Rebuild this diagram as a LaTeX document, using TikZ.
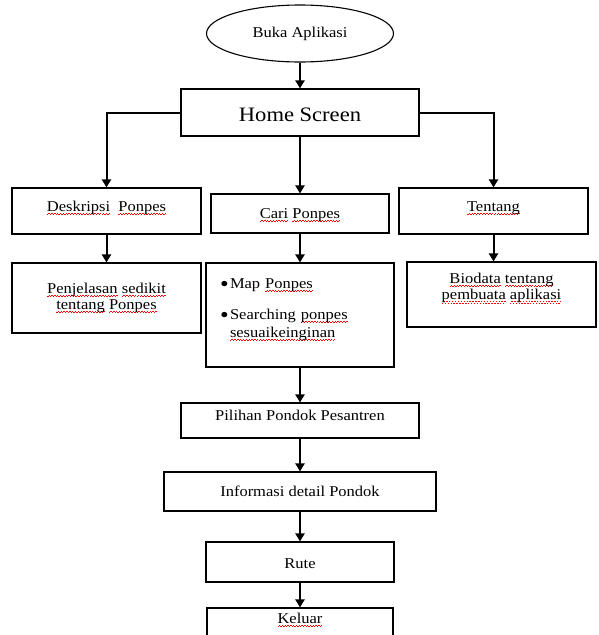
\documentclass[tikz,border=0pt]{standalone}
\usepackage{fontspec}
\setmainfont[FakeStretch=1.1]{Liberation Serif}
\usetikzlibrary{arrows.meta,shapes.geometric}
\newsavebox\sqbox
\newcommand\sq[1]{\sbox\sqbox{#1}\leavevmode\rlap{\color{red}\xleaders\hbox{\rule[-3.4pt]{1.4pt}{0.8pt}\rule[-2.3pt]{1.4pt}{0.8pt}}\hskip\wd\sqbox}\usebox\sqbox}
\newcommand\bul{\makebox[10pt][l]{\raisebox{-2.6pt}{\scalebox{1.5}{\textbullet}}}}

\begin{document}
\begin{tikzpicture}[x=1pt,y=1pt,yscale=-1,xscale=1,
  box/.style={draw,line width=1.1pt,rectangle,inner sep=2pt,align=center,font=\fontsize{15}{16.5}\selectfont},
  arr/.style={line width=2pt,-{Triangle[width=9pt,length=8pt]}}]
\useasboundingbox (0,0) rectangle (598,635);

%Shape: Ellipse [buka]
\node[box,ellipse,minimum width=187,minimum height=57] (buka) at (300,33.5) {Buka Aplikasi};
%Shape: Rectangle [home]
\node[box,minimum width=238,minimum height=47,font=\fontsize{20.5}{22}\selectfont,text height=18.5pt,text depth=0pt] (home) at (300,112.5) {Home Screen};

%Shape: Rectangle [desk]
\node[box,minimum width=189,minimum height=46,text depth=9.5pt] (desk) at (106.5,211) {\sq{Deskripsi}~~\sq{Ponpes}};
%Shape: Rectangle [cari]
\node[box,minimum width=178,minimum height=39,text height=14pt] (cari) at (300,213.5) {\sq{Cari} \sq{Ponpes}};
%Shape: Rectangle [tent]
\node[box,minimum width=189,minimum height=46,text depth=9.5pt] (tent) at (493.5,211) {\sq{Tentang}};

%Shape: Rectangle [penj]
\node[box,minimum width=189,minimum height=70] (penj) at (106.5,298) {\sq{Penjelasan} \sq{sedikit}\\ \sq{tentang} \sq{Ponpes}};
%Shape: Rectangle [map]
\node[box,minimum width=188,minimum height=104,text width=160pt,align=left,font=\fontsize{15}{18}\selectfont,text height=10pt,text depth=63pt] (map) at (300,315)
  {\bul Map \sq{Ponpes}\\[13pt]
   \bul Searching \sq{ponpes}\\
   \hspace*{10pt}\sq{sesuaikeinginan}};
%Shape: Rectangle [bio]
\node[box,minimum width=189,minimum height=65,text depth=16pt] (bio) at (501.5,294.5) {\sq{Biodata} \sq{tentang}\\ \sq{pembuata} \sq{aplikasi}};

%Shape: Rectangle [pil]
\node[box,minimum width=238,minimum height=35,text depth=10.5pt] (pil) at (300,420.5) {Pilihan Pondok Pesantren};
%Shape: Rectangle [info]
\node[box,minimum width=272,minimum height=39] (info) at (300,491.5) {Informasi detail Pondok};
%Shape: Rectangle [rute]
\node[box,minimum width=188,minimum height=40,text height=13pt,text depth=0pt] (rute) at (300,562) {Rute};
%Shape: Rectangle [kel]
\node[box,minimum width=186,minimum height=50,text depth=29pt] (kel) at (300,633) {\sq{Keluar}};

%Straight Lines
\draw[arr] (buka) -- (home);
\draw[arr] (home.west) -| (desk.north);
\draw[arr] (home) -- (cari);
\draw[arr] (home.east) -| (tent.north);
\draw[arr] (desk) -- (penj);
\draw[arr] (cari) -- (map);
\draw[arr] (tent.south) -- (tent.south |- bio.north);
\draw[arr] (map) -- (pil);
\draw[arr] (pil) -- (info);
\draw[arr] (info) -- (rute);
\draw[arr] (rute) -- (kel);
\end{tikzpicture}
\end{document}
